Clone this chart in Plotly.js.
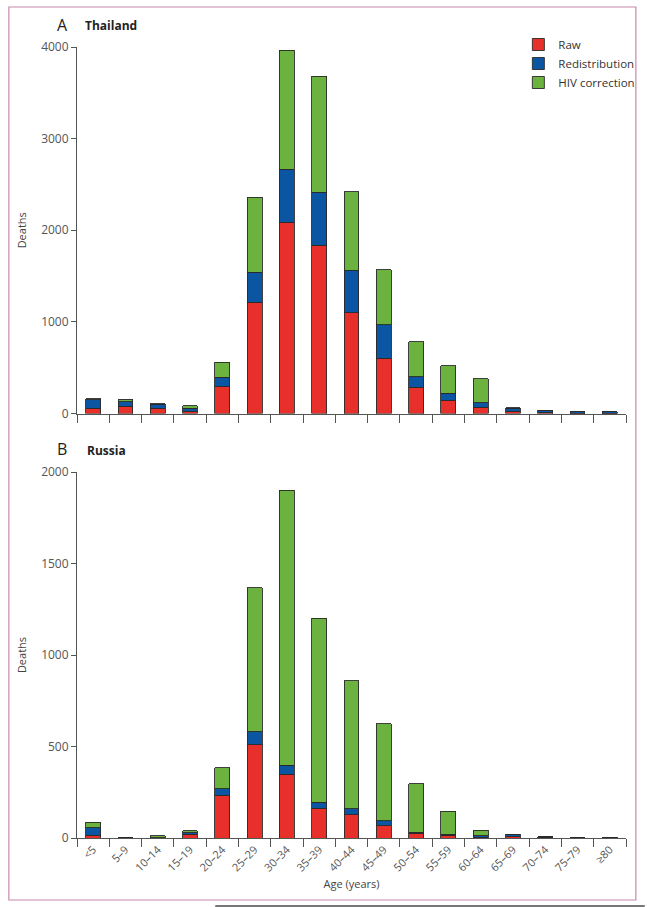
<!DOCTYPE html>
<html>
<head>
<meta charset="utf-8">
<script src="https://cdn.plot.ly/plotly-3.0.1.min.js"></script>
<style>
html,body{margin:0;padding:0;background:#fff;}
#chart{width:652px;height:907px;}
</style>
</head>
<body>
<div id="chart"></div>
<script>
// Age groups (shared)
var ageGroups = ["<5","5–9","10–14","15–19","20–24","25–29","30–34","35–39","40–44","45–49","50–54","55–59","60–64","65–69","70–74","75–79","≥80"];

// Panel A: Thailand (deaths)
var thaiRaw            = [60, 80, 60, 22, 292, 1213, 2086, 1835, 1100, 602, 286, 144, 70, 25, 10, 5, 5];
var thaiRedistribution = [90, 50, 40, 38, 103,  327,  581,  582,  466, 364, 116,  76, 47, 35, 22, 15, 12];
var thaiHIV            = [12, 25,  5, 22, 164,  819, 1299, 1262,  854, 603, 381, 300, 265, 5,  3,  3,  3];

// Panel B: Russia (deaths)
var rusRaw            = [15, 1, 1, 20, 235, 510,  348,  162, 127,  67,  26,  16,  5, 8, 3, 1, 1];
var rusRedistribution = [41, 2, 1,  8,  34,  71,   49,   33,  33,  28,   5,   4,  6, 10, 3, 2, 1];
var rusHIV            = [30, 2, 9, 12, 115, 786, 1503, 1005, 700, 530, 266, 126, 31, 2, 1, 1, 1];

var seriesNames = ["Raw", "Redistribution", "HIV correction"];
var colors = ["#e8302a", "#0b56a2", "#6cb23f"];

var lineStyle = {color: "#2a2a2a", width: 0.9};
function mk(y, i, xa, ya, show) {
  return {
    type: "bar", x: ageGroups, y: y, name: seriesNames[i],
    marker: {color: colors[i], line: lineStyle},
    xaxis: xa, yaxis: ya, showlegend: show, legendgroup: seriesNames[i],
    hoverinfo: "x+y+name"
  };
}

var data = [
  mk(thaiRaw, 0, "x", "y", true),
  mk(thaiRedistribution, 1, "x", "y", true),
  mk(thaiHIV, 2, "x", "y", true),
  mk(rusRaw, 0, "x2", "y2", false),
  mk(rusRedistribution, 1, "x2", "y2", false),
  mk(rusHIV, 2, "x2", "y2", false)
];

var FONT = "Open Sans, Noto Sans, sans-serif";
var axisCommon = {
  showline: true, linecolor: "#555", linewidth: 1,
  ticks: "outside", tickcolor: "#555", tickwidth: 1,
  showgrid: false, zeroline: false,
  tickfont: {family: FONT, size: 12, color: "#555"}
};

function px2x(px) { return (px - 77) / 556; }
function px2y(py) { return (838 - py) / 791; }

var layout = {
  width: 652, height: 907,
  margin: {l: 77, r: 19, t: 47, b: 69},
  paper_bgcolor: "#fff", plot_bgcolor: "#fff",
  barmode: "stack", bargap: 0.54,
  font: {family: FONT, color: "#444"},
  xaxis: Object.assign({}, axisCommon, {
    type: "category", range: [-0.5, 16.5], tickson: "boundaries", ticklen: 8,
    showticklabels: false, anchor: "y", domain: [0, 1]
  }),
  yaxis: Object.assign({}, axisCommon, {
    domain: [px2y(413.5), 1], range: [0, 4000], tickvals: [0, 1000, 2000, 3000, 4000],
    ticklen: 5, anchor: "x",
    title: {text: "Deaths", font: {family: FONT, size: 11, color: "#444"}, standoff: 12}
  }),
  xaxis2: Object.assign({}, axisCommon, {
    type: "category", range: [-0.5, 16.5], tickson: "boundaries", ticklen: 8,
    tickangle: -45, anchor: "y2", domain: [0, 1],
    tickfont: {family: FONT, size: 11, color: "#555"},
    title: {text: "Age (years)", font: {family: FONT, size: 11, color: "#444"}, standoff: 6}
  }),
  yaxis2: Object.assign({}, axisCommon, {
    domain: [0, px2y(472)], range: [0, 2000], tickvals: [0, 500, 1000, 1500, 2000],
    ticklen: 5, anchor: "x2",
    title: {text: "Deaths", font: {family: FONT, size: 11, color: "#444"}, standoff: 12}
  }),
  legend: {
    x: px2x(524), y: px2y(30), xanchor: "left", yanchor: "top",
    font: {family: FONT, size: 11.5, color: "#333"},
    bgcolor: "rgba(0,0,0,0)", traceorder: "normal", tracegroupgap: 0
  },
  annotations: [
    {text: "A", x: px2x(62), y: px2y(25), xref: "paper", yref: "paper", xanchor: "center", yanchor: "middle", showarrow: false,
     font: {family: FONT, size: 16, color: "#222"}},
    {text: "<b>Thailand</b>", x: px2x(83), y: px2y(26), xref: "paper", yref: "paper", xanchor: "left", yanchor: "middle", showarrow: false,
     font: {family: FONT, size: 12, color: "#222"}},
    {text: "B", x: px2x(62), y: px2y(449), xref: "paper", yref: "paper", xanchor: "center", yanchor: "middle", showarrow: false,
     font: {family: FONT, size: 16, color: "#222"}},
    {text: "<b>Russia</b>", x: px2x(85), y: px2y(450), xref: "paper", yref: "paper", xanchor: "left", yanchor: "middle", showarrow: false,
     font: {family: FONT, size: 12, color: "#222"}}
  ],
  shapes: [
    {type: "rect", xref: "paper", yref: "paper", x0: px2x(8), x1: px2x(643), y0: px2y(900), y1: px2y(7),
     line: {color: "#c58aab", width: 1.2}, fillcolor: "rgba(0,0,0,0)", layer: "below"},
    {type: "line", xref: "paper", yref: "paper", x0: px2x(217), x1: px2x(652), y0: px2y(906), y1: px2y(906),
     line: {color: "#777", width: 2}}
  ]
};

Plotly.newPlot("chart", data, layout, {displayModeBar: false, staticPlot: true});
</script>
</body>
</html>
